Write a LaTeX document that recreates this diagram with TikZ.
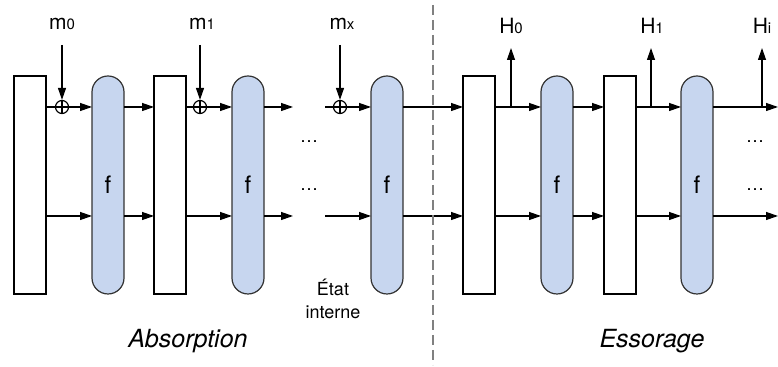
\documentclass[tikz,border=0pt]{standalone}
\usepackage{fontspec}
\setmainfont{TeX Gyre Heros}
\usetikzlibrary{positioning}
\usetikzlibrary{arrows.meta}
\definecolor{permblue}{RGB}{199,214,239}

\begin{document}
\begin{tikzpicture}[x=0.5pt, y=-0.5pt,
    block/.style={draw, line width=0.6pt, minimum width=16pt, minimum height=109pt, inner sep=0pt, outer sep=0pt},
    perm/.style={block, fill=permblue, draw=black!80, rounded corners=8pt, font=\fontsize{12}{14}\selectfont},
    xor/.style={circle, draw, line width=0.6pt, inner sep=0pt, minimum size=6.5pt,
        path picture={\draw[line width=0.6pt] (path picture bounding box.north) -- (path picture bounding box.south)
            (path picture bounding box.west) -- (path picture bounding box.east);}},
    lbl/.style={anchor=base, inner sep=0pt, font=\fontsize{10.5}{12}\selectfont},
    wire/.style={line width=0.6pt},
    arr/.style={wire, -{Triangle[length=6pt,width=4pt]}},
    dotsl/.style={anchor=base, inner sep=0pt, font=\fontsize{9}{10}\selectfont},
  ]
    \useasboundingbox (0,0) rectangle (778,367);

    % blocs et permutations
    \node[block] (rect1) at (30,185) {};
    \node[perm, right=23pt of rect1] (f1) {f};
    \node[block, right=15pt of f1] (rect2) {};
    \node[perm, right=23pt of rect2] (f2) {f};
    \node[perm, right=53.5pt of f2] (f3) {f};
    \node[block, right=30pt of f3] (rect3) {};
    \node[perm, right=23pt of rect3] (f4) {f};
    \node[block, right=15.5pt of f4] (rect4) {};
    \node[perm, right=22.5pt of rect4] (f5) {f};

    \coordinate (rowA) at (0,107);
    \coordinate (rowB) at (0,216);
    \coordinate (gapA) at (293,107);
    \coordinate (gapB) at (325,107);
    \coordinate (gapC) at (293,216);
    \coordinate (gapD) at (325,216);
    \coordinate (endA) at (778,107);
    \coordinate (endB) at (778,216);

    \node[xor] (xor0) at (62,107) {};
    \node[xor] (xor1) at (200,107) {};
    \node[xor] (xorx) at (340,107) {};

    \node[lbl] (m0) at (62,30) {m{\fontsize{7.5}{9}\selectfont 0}};
    \node[lbl] (m1) at (202,30) {m{\fontsize{7.5}{9}\selectfont 1}};
    \node[lbl] (mx) at (342,30) {m{\fontsize{7.5}{9}\selectfont x}};
    \node[lbl] (H0) at (511,34) {H{\fontsize{7.5}{9}\selectfont 0}};
    \node[lbl] (H1) at (652,34) {H{\fontsize{7.5}{9}\selectfont 1}};
    \node[lbl] (Hi) at (762,34) {H{\fontsize{7.5}{9}\selectfont i}};

    % ligne du haut
    \draw[wire] (rect1.east |- rowA) -- (xor0);
    \draw[arr] (xor0) -- (f1.west |- rowA);
    \draw[arr] (f1.east |- rowA) -- (rect2.west |- rowA);
    \draw[wire] (rect2.east |- rowA) -- (xor1);
    \draw[arr] (xor1) -- (f2.west |- rowA);
    \draw[arr] (f2.east |- rowA) -- (gapA);
    \draw[wire] (gapB) -- (xorx);
    \draw[arr] (xorx) -- (f3.west |- rowA);
    \draw[arr] (f3.east |- rowA) -- (rect3.west |- rowA);
    \draw[arr] (rect3.east |- rowA) -- (f4.west |- rowA);
    \draw[arr] (f4.east |- rowA) -- (rect4.west |- rowA);
    \draw[arr] (rect4.east |- rowA) -- (f5.west |- rowA);
    \draw[arr] (f5.east |- rowA) -- (endA);

    % ligne du bas
    \draw[arr] (rect1.east |- rowB) -- (f1.west |- rowB);
    \draw[arr] (f1.east |- rowB) -- (rect2.west |- rowB);
    \draw[arr] (rect2.east |- rowB) -- (f2.west |- rowB);
    \draw[arr] (f2.east |- rowB) -- (gapC);
    \draw[arr] (gapD) -- (f3.west |- rowB);
    \draw[arr] (f3.east |- rowB) -- (rect3.west |- rowB);
    \draw[arr] (rect3.east |- rowB) -- (f4.west |- rowB);
    \draw[arr] (f4.east |- rowB) -- (rect4.west |- rowB);
    \draw[arr] (rect4.east |- rowB) -- (f5.west |- rowB);
    \draw[arr] (f5.east |- rowB) -- (endB);

    % entrees et sorties
    \draw[arr] ([yshift=-7.5pt]m0.base) -- (xor0);
    \draw[arr] ([yshift=-7.5pt]m1.base -| xor1) -- (xor1);
    \draw[arr] ([yshift=-7.5pt]mx.base -| xorx) -- (xorx);
    \draw[arr] (H0.base |- rowA) -- ([yshift=-7pt]H0.base);
    \draw[arr] (Hi.base |- rowA) -- ([yshift=-7pt]Hi.base);
    \coordinate (h1x) at (651,107);
    \draw[arr] (h1x) -- ([yshift=-7pt]h1x |- H1.base);

    \node[dotsl] (d1) at (309,143) {\dots};
    \node[dotsl] (d2) at (309,191) {\dots};
    \node[dotsl] (d3) at (755,143) {\dots};
    \node[dotsl] (d4) at (755,191) {\dots};

    \draw[gray, line width=0.75pt, dash pattern=on 5pt off 2.5pt] (433,5) -- (433,365);

    \node[align=center, font=\fontsize{9}{11.8}\selectfont] (etat) at (333,299) {État\\interne};
    \node[anchor=base, font=\fontsize{12.5}{15}\selectfont\itshape] (absorb) at (188,347.5) {Absorption};
    \node[anchor=base, font=\fontsize{12.5}{15}\selectfont\itshape] (essor) at (652,347.5) {Essorage};
\end{tikzpicture}
\end{document}
